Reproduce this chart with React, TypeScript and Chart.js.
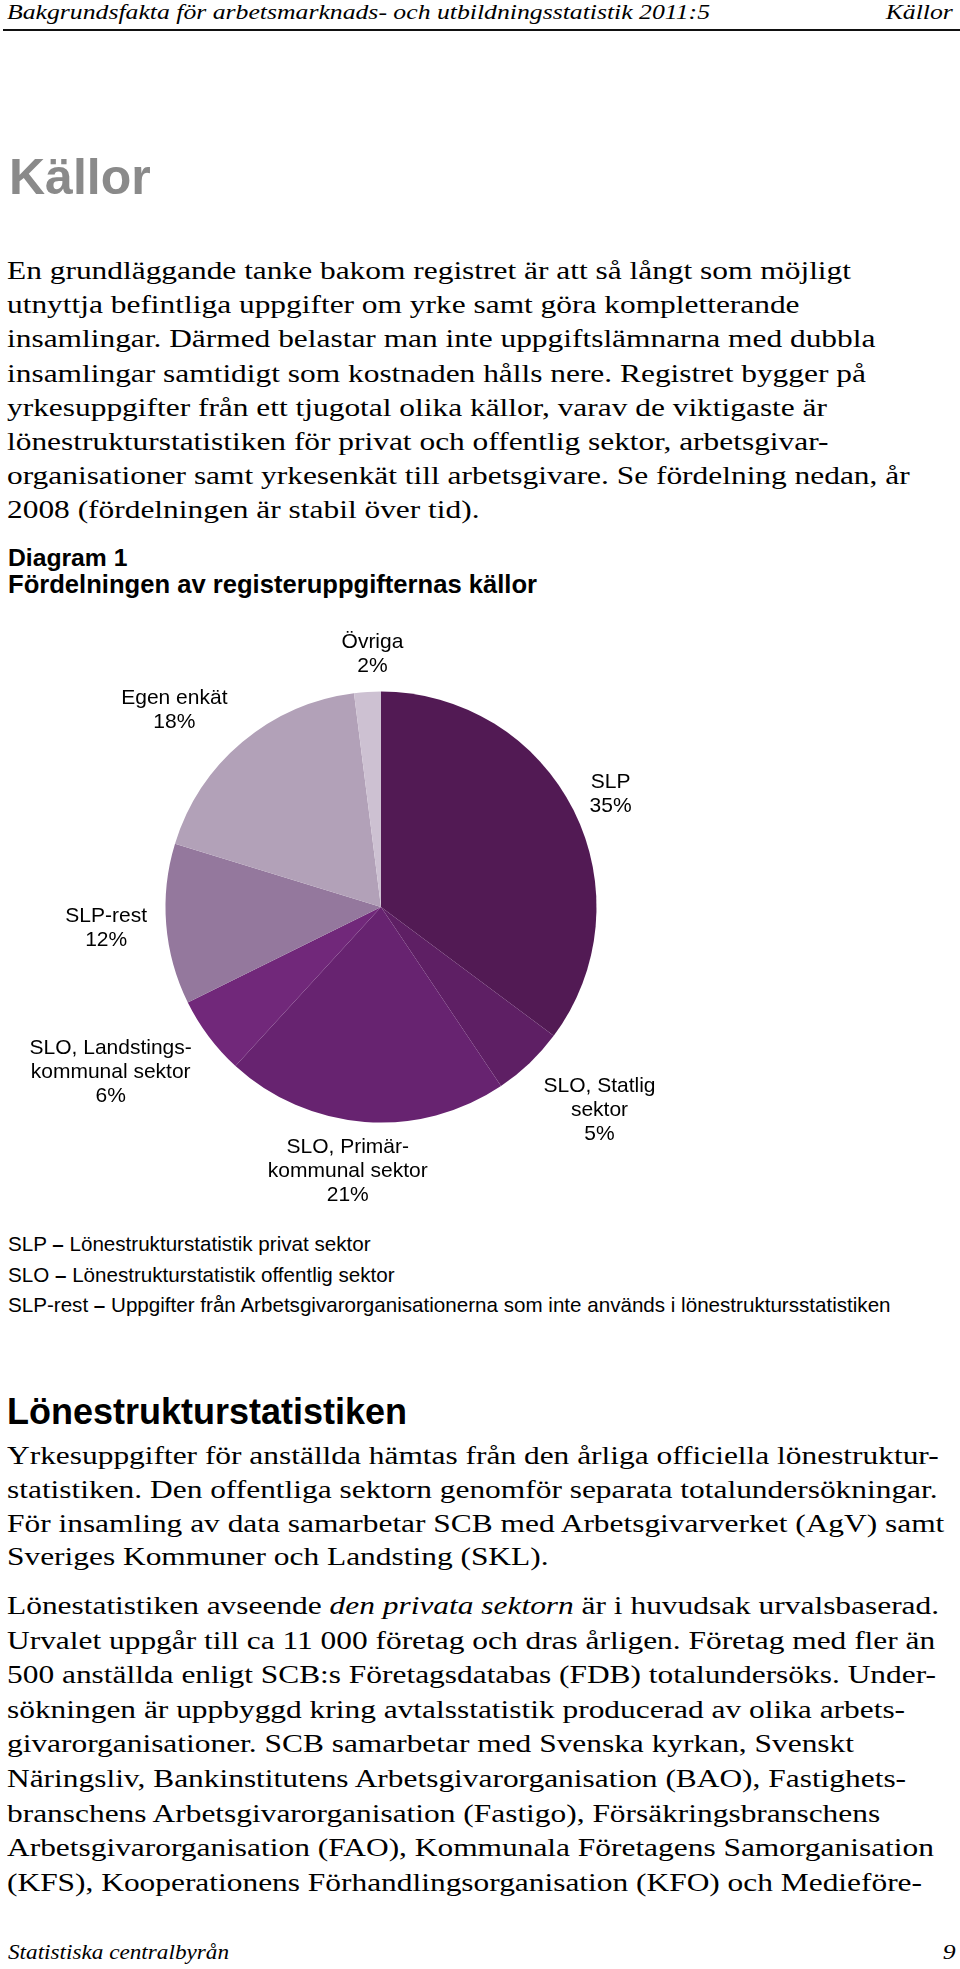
import React, { useEffect, useRef, useMemo } from "react";
import { Chart, registerables } from "chart.js";

Chart.register(...registerables);

// ---------- Data ----------
const categories = [
  "SLP",
  "SLO, Statlig sektor",
  "SLO, Primärkommunal sektor",
  "SLO, Landstingskommunal sektor",
  "SLP-rest",
  "Egen enkät",
  "Övriga",
];
const labelLines: string[][] = [
  ["SLP"],
  ["SLO, Statlig", "sektor"],
  ["SLO, Primär-", "kommunal sektor"],
  ["SLO, Landstings-", "kommunal sektor"],
  ["SLP-rest"],
  ["Egen enkät"],
  ["Övriga"],
];
const shares = [35.2, 5.4, 21.2, 5.9, 12.05, 18.25, 2.0];
const percentLabels = ["35%", "5%", "21%", "6%", "12%", "18%", "2%"];

// ---------- Style ----------
const sliceColors = ["#521a54", "#5e1f64", "#672370", "#71287a", "#94789d", "#b2a1b8", "#cdc1d2"];
// label offsets (px) from the arc's outer mid-point
const labelNudges: number[][] = [
  [37, -16],
  [70, 47],
  [-17, 49],
  [-98, 36],
  [-60, 4],
  [-68, -32],
  [5, -38],
];

const SERIF = '"Liberation Serif", "Times New Roman", serif';
const SANS = '"Liberation Sans", Arial, sans-serif';

function measure(text: string, font: string): number {
  const c = document.createElement("canvas").getContext("2d");
  if (!c) return 1;
  c.font = font;
  return c.measureText(text).width;
}

type LineProps = {
  x: number;
  baseline: number;
  size: number;
  serif?: boolean;
  bold?: boolean;
  italic?: boolean;
  color?: string;
  scale?: number;
  right?: boolean;
  children: React.ReactNode;
};

function Line({ x, baseline, size, serif, bold, italic, color, scale = 1, right, children }: LineProps) {
  const k = serif ? 0.8375 : 0.8465;
  const top = baseline - k * size;
  const style: React.CSSProperties = {
    position: "absolute",
    top,
    fontFamily: serif ? SERIF : SANS,
    fontSize: size,
    lineHeight: size + "px",
    fontWeight: bold ? "bold" : "normal",
    fontStyle: italic ? "italic" : "normal",
    color: color || "#000",
    whiteSpace: "nowrap",
    transform: `scaleX(${scale})`,
    transformOrigin: right ? "right top" : "left top",
  };
  if (right) style.right = 960 - x;
  else style.left = x;
  return <div style={style}>{children}</div>;
}

const para1 = [
  "En grundläggande tanke bakom registret är att så långt som möjligt",
  "utnyttja befintliga uppgifter om yrke samt göra kompletterande",
  "insamlingar. Därmed belastar man inte uppgiftslämnarna med dubbla",
  "insamlingar samtidigt som kostnaden hålls nere. Registret bygger på",
  "yrkesuppgifter från ett tjugotal olika källor, varav de viktigaste är",
  "lönestrukturstatistiken för privat och offentlig sektor, arbetsgivar-",
  "organisationer samt yrkesenkät till arbetsgivare. Se fördelning nedan, år",
  "2008 (fördelningen är stabil över tid).",
];
const para2 = [
  "Yrkesuppgifter för anställda hämtas från den årliga officiella lönestruktur-",
  "statistiken. Den offentliga sektorn genomför separata totalundersökningar.",
  "För insamling av data samarbetar SCB med Arbetsgivarverket (AgV) samt",
  "Sveriges Kommuner och Landsting (SKL).",
];
const para3: React.ReactNode[] = [
  <>Lönestatistiken avseende <i>den privata sektorn</i> är i huvudsak urvalsbaserad.</>,
  "Urvalet uppgår till ca 11 000 företag och dras årligen. Företag med fler än",
  "500 anställda enligt SCB:s Företagsdatabas (FDB) totalundersöks. Under-",
  "sökningen är uppbyggd kring avtalsstatistik producerad av olika arbets-",
  "givarorganisationer. SCB samarbetar med Svenska kyrkan, Svenskt",
  "Näringsliv, Bankinstitutens Arbetsgivarorganisation (BAO), Fastighets-",
  "branschens Arbetsgivarorganisation (Fastigo), Försäkringsbranschens",
  "Arbetsgivarorganisation (FAO), Kommunala Företagens Samorganisation",
  "(KFS), Kooperationens Förhandlingsorganisation (KFO) och Medieföre-",
];

const BODY = 25;
const HEAD = 21;
const NOTE = 20.6;

function PieChart() {
  const ref = useRef<HTMLCanvasElement>(null);
  useEffect(() => {
    if (!ref.current) return;
    const labelPlugin = {
      id: "sliceLabels",
      afterDatasetsDraw(chart: any) {
        const ctx = chart.ctx;
        const meta = chart.getDatasetMeta(0);
        ctx.save();
        ctx.font = `21px ${SANS}`;
        ctx.fillStyle = "#000";
        ctx.textAlign = "center";
        ctx.textBaseline = "middle";
        meta.data.forEach((arc: any, i: number) => {
          const p = arc.getProps(["x", "y", "startAngle", "endAngle", "outerRadius"], true);
          const mid = (p.startAngle + p.endAngle) / 2;
          const cx = p.x + Math.cos(mid) * p.outerRadius + labelNudges[i][0];
          const cy = p.y + Math.sin(mid) * p.outerRadius + labelNudges[i][1];
          const lines = [...labelLines[i], percentLabels[i]];
          const lh = 24;
          lines.forEach((t, j) => {
            ctx.fillText(t, cx, cy + (j - (lines.length - 1) / 2) * lh);
          });
        });
        ctx.restore();
      },
    };
    const chart = new Chart(ref.current, {
      type: "pie",
      data: {
        labels: categories,
        datasets: [
          {
            data: shares,
            backgroundColor: sliceColors,
            borderWidth: 0,
          },
        ],
      },
      options: {
        animation: false,
        responsive: false,
        events: [],
        layout: { padding: { left: 165.5, right: 363.5, top: 81.5, bottom: 102.5 } },
        plugins: {
          legend: { display: false },
          tooltip: { enabled: false },
          title: { display: false },
        },
      },
      plugins: [labelPlugin],
    });
    return () => chart.destroy();
  }, []);
  return (
    <div style={{ position: "absolute", left: 0, top: 610, width: 960, height: 615 }}>
      <canvas ref={ref} width={960} height={615} style={{ display: "block" }} />
    </div>
  );
}

export default function App() {
  const scales = useMemo(() => {
    const body = 844 / measure(para1[0], `${BODY}px ${SERIF}`);
    const head = 703 / measure("Bakgrundsfakta för arbetsmarknads- och utbildningsstatistik 2011:5", `italic ${HEAD}px ${SERIF}`);
    const foot = 221 / measure("Statistiska centralbyrån", `italic ${HEAD}px ${SERIF}`);
    return { body, head, foot };
  }, []);

  return (
    <div
      style={{
        position: "absolute",
        left: 0,
        top: 0,
        width: 960,
        height: 1969,
        overflow: "hidden",
        background: "#fff",
      }}
    >
      {/* Running header */}
      <Line x={7} baseline={19.5} size={HEAD} serif italic scale={scales.head}>
        Bakgrundsfakta för arbetsmarknads- och utbildningsstatistik 2011:5
      </Line>
      <Line x={953} baseline={19.5} size={HEAD} serif italic scale={scales.head} right>
        Källor
      </Line>
      <div style={{ position: "absolute", left: 3, top: 29, width: 957, height: 1.5, background: "#111" }} />

      {/* Title */}
      <Line x={9} baseline={194} size={50} bold color="#8a8a8a">
        Källor
      </Line>

      {para1.map((t, i) => (
        <Line key={"p1" + i} x={7} baseline={279 + i * 34.2} size={BODY} serif scale={scales.body}>
          {t}
        </Line>
      ))}

      <Line x={8} baseline={566.5} size={24.7} bold>
        Diagram 1
      </Line>
      <Line x={8} baseline={594} size={25.6} bold>
        Fördelningen av registeruppgifternas källor
      </Line>

      <PieChart />

      <Line x={8} baseline={1251.5} size={NOTE}>
        SLP <b>–</b> Lönestrukturstatistik privat sektor
      </Line>
      <Line x={8} baseline={1282} size={NOTE}>
        SLO <b>–</b> Lönestrukturstatistik offentlig sektor
      </Line>
      <Line x={8} baseline={1312.5} size={NOTE}>
        SLP-rest <b>–</b> Uppgifter från Arbetsgivarorganisationerna som inte används i lönestruktursstatistiken
      </Line>

      <Line x={7} baseline={1424} size={36} bold>
        Lönestrukturstatistiken
      </Line>

      {para2.map((t, i) => (
        <Line key={"p2" + i} x={7} baseline={1464 + i * 33.8} size={BODY} serif scale={scales.body}>
          {t}
        </Line>
      ))}

      {para3.map((t, i) => (
        <Line key={"p3" + i} x={7} baseline={1614 + i * 34.6} size={BODY} serif scale={scales.body}>
          {t}
        </Line>
      ))}

      {/* Footer */}
      <Line x={8} baseline={1960} size={HEAD} serif italic scale={scales.foot}>
        Statistiska centralbyrån
      </Line>
      <Line x={955} baseline={1960} size={HEAD} serif italic scale={scales.head} right>
        9
      </Line>
    </div>
  );
}
